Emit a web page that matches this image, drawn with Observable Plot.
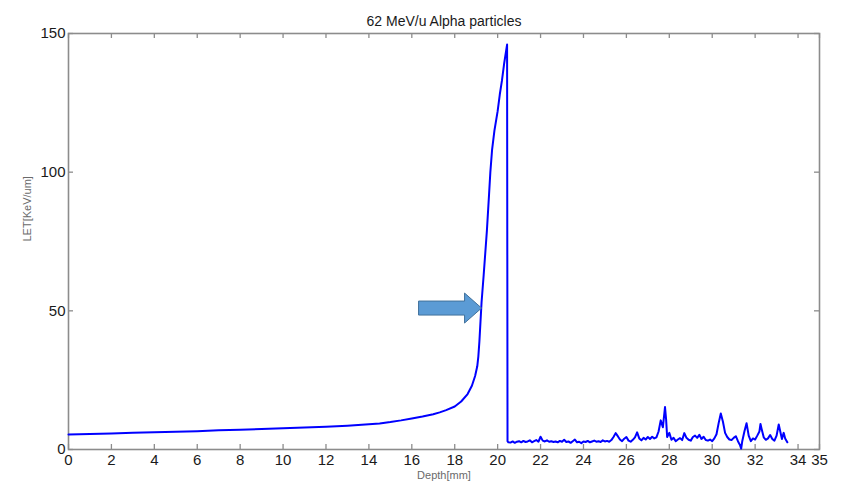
<!DOCTYPE html>
<html>
<head>
<meta charset="utf-8">
<script src="https://cdn.jsdelivr.net/npm/d3@7"></script>
<script src="https://cdn.jsdelivr.net/npm/@observablehq/plot@0.6"></script>
<style>
  html, body { margin: 0; padding: 0; background: #fff; }
  #chart { width: 844px; height: 487px; }
</style>
</head>
<body>
<div id="chart"></div>
<script>
// ---- data ----
const titleText = "62 MeV/u Alpha particles";
const xLabel = "Depth[mm]";
const yLabel = "LET[KeV/um]";
const xTicks = [0, 2, 4, 6, 8, 10, 12, 14, 16, 18, 20, 22, 24, 26, 28, 30, 32, 34, 35];
const yTicks = [0, 50, 100, 150];

// Bragg curve (rising part up to the peak)
const braggDepth = [0, 1, 2, 3, 4, 5, 6, 7, 8, 9, 10, 11, 12, 13, 14, 14.5, 15, 15.5, 16, 16.5, 17, 17.3, 17.6, 18, 18.3, 18.6, 18.8, 18.95, 19.05, 19.1, 19.15, 19.2, 19.25, 19.35, 19.5, 19.6, 19.66, 19.74, 19.85, 20.0, 20.1, 20.2, 20.3, 20.44];
const braggLET   = [5.4, 5.6, 5.8, 6.0, 6.2, 6.4, 6.6, 6.9, 7.1, 7.4, 7.7, 7.9, 8.2, 8.6, 9.1, 9.4, 9.9, 10.5, 11.2, 11.9, 12.7, 13.4, 14.2, 15.5, 17.3, 20, 23, 26.5, 30, 33.5, 39, 46, 53, 63, 79, 92, 100, 108, 115, 122, 128, 133, 139, 146];

// Tail beyond the Bragg peak (fragments)
const tailDepth = [20.46, 20.5, 20.6, 20.7, 20.8, 20.9, 21.0, 21.1, 21.2, 21.3, 21.4, 21.5, 21.6, 21.7, 21.8, 21.9, 22.0, 22.1, 22.2, 22.3, 22.4, 22.5, 22.6, 22.7, 22.8, 22.9, 23.0, 23.1, 23.2, 23.3, 23.4, 23.5, 23.6, 23.7, 23.8, 23.9, 24.0, 24.1, 24.2, 24.3, 24.4, 24.5, 24.6, 24.7, 24.8, 24.9, 25.0, 25.1, 25.2, 25.3, 25.4, 25.5, 25.6, 25.7, 25.8, 25.9, 26.0, 26.1, 26.2, 26.3, 26.4, 26.5, 26.6, 26.7, 26.8, 26.9, 27.0, 27.1, 27.2, 27.3, 27.4, 27.5, 27.6, 27.7, 27.8, 27.85, 27.9, 28.0, 28.1, 28.2, 28.3, 28.4, 28.5, 28.6, 28.7, 28.8, 28.9, 29.0, 29.1, 29.2, 29.3, 29.4, 29.5, 29.6, 29.7, 29.8, 29.9, 30.0, 30.1, 30.2, 30.3, 30.4, 30.5, 30.6, 30.7, 30.8, 30.9, 31.0, 31.1, 31.2, 31.3, 31.35, 31.4, 31.5, 31.6, 31.7, 31.8, 31.9, 32.0, 32.1, 32.2, 32.25, 32.3, 32.4, 32.5, 32.6, 32.7, 32.8, 32.9, 33.0, 33.1, 33.2, 33.25, 33.33, 33.4, 33.5];
const tailLET   = [3.0, 2.6, 2.5, 2.9, 2.4, 2.8, 3.0, 2.6, 3.1, 2.7, 2.9, 3.3, 2.6, 3.0, 3.4, 2.8, 4.6, 3.2, 2.9, 3.3, 2.8, 3.0, 2.7, 2.9, 2.6, 3.1, 2.8, 3.5, 2.7, 2.9, 2.4, 3.0, 3.6, 2.6, 2.8, 2.3, 2.9, 2.7, 3.1, 2.6, 2.9, 3.2, 2.8, 3.0, 2.7, 3.3, 2.9, 3.1, 2.8, 3.4, 4.5, 5.9, 4.8, 3.6, 3.0, 3.9, 4.5, 3.2, 2.8, 3.5, 4.4, 6.2, 4.0, 3.3, 4.2, 3.6, 4.5, 3.8, 4.6, 4.0, 4.4, 6.5, 10.5, 8.0, 15.3, 11, 4.5, 6.0, 3.5, 4.2, 3.0, 3.6, 4.1, 3.4, 5.9, 4.2, 3.5, 3.2, 4.5, 5.0, 4.2, 5.3, 3.8, 4.6, 3.4, 3.2, 3.6, 3.0, 4.0, 5.5, 9.5, 13.0, 10.0, 6.0, 4.5, 3.6, 3.4, 4.2, 4.8, 3.0, 1.5, 0.3, 3.0, 6.5, 9.5, 5.0, 3.0, 4.0, 3.6, 5.0, 6.5, 9.2, 7.5, 4.4, 3.5, 4.0, 5.2, 3.8, 3.2, 5.0, 9.0, 5.5, 3.8, 6.0, 4.0, 2.6];

// Arrow annotation pointing at the distal rise
const arrowTarget = [{depth: 19.25, let: 51}];

// ---- build table ----
const series = braggDepth.map((d, i) => ({depth: d, let: braggLET[i]}))
  .concat(tailDepth.map((d, i) => ({depth: d, let: tailLET[i]})));

const W = 844, H = 487;
const mL = 68, mR = 25, mT = 33, mB = 38;
const frameW = W - mL - mR, frameH = H - mT - mB;
const tickLen = 5;
const axisGray = "#8c8c8c";

const blockArrow = {
  draw(context) {
    // tip at origin, pointing right
    context.moveTo(0, 0);
    context.lineTo(-17, -15);
    context.lineTo(-17, -7);
    context.lineTo(-63, -7);
    context.lineTo(-63, 7);
    context.lineTo(-17, 7);
    context.lineTo(-17, 15);
    context.closePath();
  }
};

const chart = Plot.plot({
  width: W,
  height: H,
  marginLeft: mL,
  marginRight: mR,
  marginTop: mT,
  marginBottom: mB,
  style: {fontFamily: "'Liberation Sans', Arial, Helvetica, sans-serif", background: "#fff"},
  x: {domain: [0, 35]},
  y: {domain: [0, 150]},
  marks: [
    // inward ticks (MATLAB style) on all four sides
    Plot.ruleX(xTicks, {x: d => d, insetTop: frameH - tickLen, stroke: axisGray, strokeWidth: 1.3}),
    Plot.ruleX(xTicks, {x: d => d, insetBottom: frameH - tickLen, stroke: axisGray, strokeWidth: 1.3}),
    Plot.ruleY(yTicks, {y: d => d, insetRight: frameW - tickLen, stroke: axisGray, strokeWidth: 1.3}),
    Plot.ruleY(yTicks, {y: d => d, insetLeft: frameW - tickLen, stroke: axisGray, strokeWidth: 1.3}),
    Plot.axisX({ticks: xTicks, tickSize: 0, tickPadding: 5, fontSize: 15, label: null, tickFormat: d => String(d), color: "#1a1a1a"}),
    Plot.axisY({ticks: yTicks, tickSize: 0, tickPadding: 3, fontSize: 15, label: null, tickFormat: d => String(d), color: "#1a1a1a"}),
    Plot.frame({stroke: axisGray, strokeWidth: 1.6}),
    Plot.line(series, {x: "depth", y: "let", stroke: "#0000ff", strokeWidth: 2}),
    Plot.dot(arrowTarget, {x: "depth", y: "let", symbol: blockArrow, r: 10, fill: "#5b9bd5", stroke: "#41719c", strokeWidth: 1}),
    Plot.text([titleText], {text: d => d, frameAnchor: "top", dy: -17, fontSize: 14, fill: "#1a1a1a"}),
    Plot.text([xLabel], {text: d => d, frameAnchor: "bottom", dy: 29, fontSize: 11, fill: "#6a6a6a"}),
    Plot.text([yLabel], {text: d => d, frameAnchor: "left", dx: -41, rotate: -90, fontSize: 11, fill: "#6a6a6a"})
  ]
});

document.getElementById("chart").appendChild(chart);
</script>
</body>
</html>
